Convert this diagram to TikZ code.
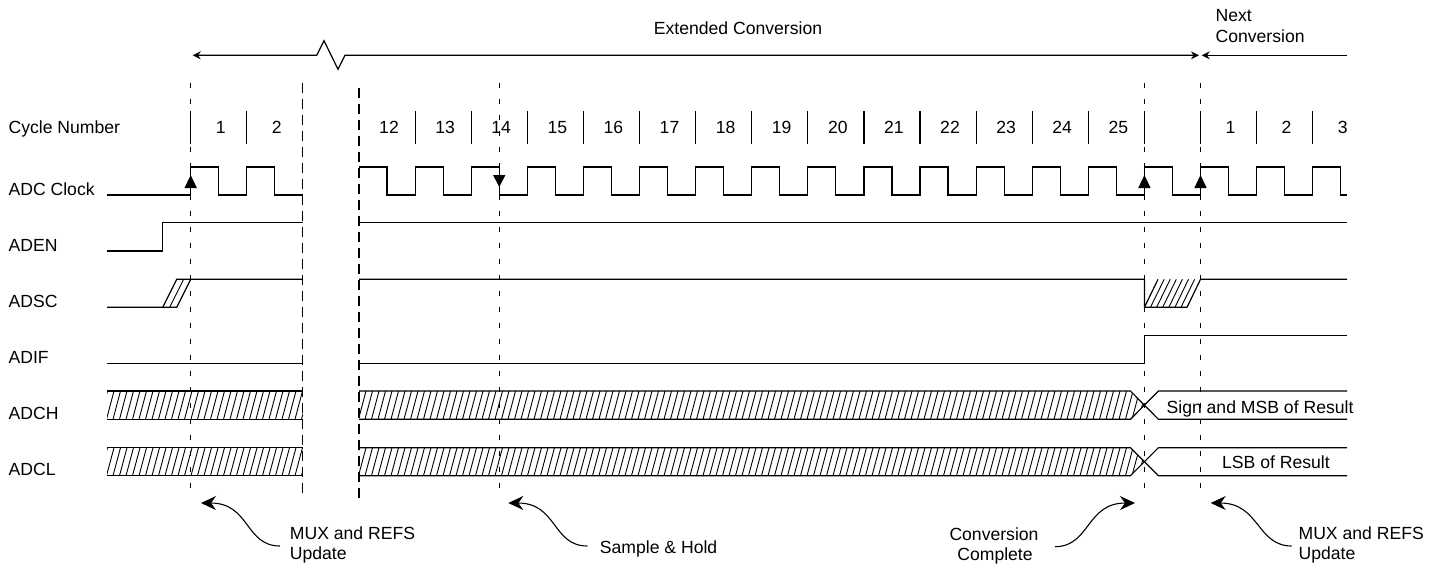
\documentclass[tikz,border=0pt]{standalone}
\usepackage{fontspec}
\setmainfont{Liberation Sans}
\usetikzlibrary{arrows.meta}
\begin{document}
\begin{tikzpicture}[x=1pt,y=-1pt,line width=1.2pt,
  evline/.style={line width=1.1pt, dash pattern=on 5pt off 11pt},
  brkline/.style={line width=1.1pt, dash pattern=on 10pt off 6pt},
  lbl/.style={font=\fontsize{17.6}{21}\selectfont, inner sep=0pt},
  hatchln/.style={line width=0.9pt},
  note/.style={line width=1.1pt, -{Stealth[length=15pt,width=14pt,inset=5pt]}},
  spanarrows/.style={{Stealth[length=8pt,width=8pt]}-{Stealth[length=8pt,width=8pt]}},
  spanarrow/.style={-{Stealth[length=8pt,width=8pt]}}]
\useasboundingbox (0,0) rectangle (1440,563);
\def\rz{190.7}\def\per{56.1}

% signal labels
\node[lbl,anchor=base west] (lcyc) at (8,133) {Cycle Number};
\node[lbl,anchor=base west] (lclk) at (8,195.5) {ADC Clock};
\node[lbl,anchor=base west] (laden) at (8,251.5) {ADEN};
\node[lbl,anchor=base west] (ladsc) at (8,307.5) {ADSC};
\node[lbl,anchor=base west] (ladif) at (8,363.5) {ADIF};
\node[lbl,anchor=base west] (ladch) at (8,419.5) {ADCH};
\node[lbl,anchor=base west] (ladcl) at (8,475.5) {ADCL};

% cycle numbers and separators
\foreach \n/\t in {0/1,1/2,3/12,4/13,5/14,6/15,7/16,8/17,9/18,10/19,11/20,12/21,13/22,14/23,15/24,16/25,18/1,19/2,20/3}
  \node[lbl,anchor=base] (cyc\n) at ({\rz+\per*\n+30},133) {\t};
\foreach \n in {0,1}
  \draw ({\rz+\per*\n},111) -- ++(0,33);
\foreach \n in {4,...,20}
  \draw ({\rz+\per*\n},111) -- ++(0,33);

% ADC clock
\draw (107,195) -- (190.7,195) -- (190.7,167) -- (218.75,167) -- (218.75,195) -- (246.8,195) -- (246.8,167) -- (274.85,167) -- (274.85,195) -- (302.9,195);
\draw (359,167) \foreach \k in {3,...,19}{ -- ({\rz+\per*\k+28.05},167) -- ({\rz+\per*\k+28.05},195) -- ({\rz+\per*(\k+1)},195) -- ({\rz+\per*(\k+1)},167)} -- (1340.75,167) -- (1340.75,195) -- (1347,195);
\foreach \x in {190.7,1144.4,1200.5}
  \fill (\x,175) -- (\x+6.2,188) -- (\x-6.2,188) -- cycle;
\fill (499.25,187) -- (505.45,175) -- (493.05,175) -- cycle;

% ADEN
\draw (107,251) -- (162.7,251) -- (162.7,222.7) -- (302.9,222.7);
\draw (359,222.7) -- (1347,222.7);

% ADSC
\draw (107,307.3) -- (176.7,307.3) -- (190.7,279.3) -- (302.9,279.3);
\draw (162.7,307.3) -- (176.7,279.3) -- (190.7,279.3);
\draw[hatchln] (169.7,307.3) -- (183.7,279.3);
\draw (359,279.3) -- (1144.4,279.3) -- (1144.4,307.3) -- (1187,307.3) -- (1200.5,279.3) -- (1347,279.3);
\draw (1144.4,307.3) -- (1158,279.3);
\foreach \x in {1150.5,1156.6,1162.7,1168.8,1174.9,1181}
  \draw[hatchln] (\x,307.3) -- ++(13.6,-28);

% ADIF
\draw (107,363.3) -- (302.9,363.3);
\draw (359,363.3) -- (1144.4,363.3) -- (1144.4,335.7) -- (1347,335.7);

% ADCH / ADCL buses
\foreach \T/\B in {391/419.3,447.7/475.7} {
  \pgfmathsetmacro\M{(\T+\B)/2}
  \begin{scope}
    \clip (107,\T) rectangle (302.9,\B);
    \foreach \x in {100,106.5,...,310} \draw[hatchln] (\x,\B) -- ++(7.5,\T-\B);
  \end{scope}
  \draw (107,\T) -- (302.9,\T) (107,\B) -- (302.9,\B);
  \begin{scope}
    \clip (359,\T) -- (1130.4,\T) -- (1144.4,\M) -- (1130.4,\B) -- (359,\B) -- cycle;
    \foreach \x in {352,358.5,...,1150} \draw[hatchln] (\x,\B) -- ++(7.5,\T-\B);
  \end{scope}
  \draw (359,\T) -- (1130.4,\T) -- (1158.4,\B) -- (1347,\B);
  \draw (359,\B) -- (1130.4,\B) -- (1158.4,\T) -- (1347,\T);
}
\node[lbl,anchor=base west] (msb) at (1166,413.3) {Sign and MSB of Result};
\node[lbl,anchor=base] (lsb) at (1276,468.5) {LSB of Result};

% vertical dashed markers
\foreach \x in {190.7,499.25,1144.4,1200.5}
  \draw[evline] (\x,83) -- (\x,498);
\draw[brkline] (302.9,83) -- (302.9,497);
\draw[brkline] (359,88) -- (359,503);

% top spans
\coordinate (exL) at (192.7,55.3);
\coordinate (exR) at (1199,55.3);
\coordinate (nxL) at (1201.7,55.3);
\coordinate (nxR) at (1347,55.3);
\draw[spanarrows] (exL) -- (316.7,55.3) -- (324,40.7) -- (338,69.3) -- (345,55.3) -- (exR);
\draw[spanarrow] (nxR) -- (nxL);
\node[lbl,anchor=base] (ext) at (738,34) {Extended Conversion};
\node[lbl,anchor=base west] (nxt1) at (1215,21.3) {Next};
\node[lbl,anchor=base west] (nxt2) at (1215,42.3) {Conversion};

% annotations
\node[lbl,anchor=base west] (mux1a) at (289.3,539) {MUX and REFS};
\node[lbl,anchor=base west] (mux1b) at (289.3,559.3) {Update};
\coordinate (m1s) at (280,546); \coordinate (m1t) at (201,503);
\draw[note] (m1s) .. controls +(-35,0) and +(49,0) .. (m1t);

\node[lbl,anchor=base west] (sh) at (599.3,553.3) {Sample \& Hold};
\coordinate (shs) at (587.3,546); \coordinate (sht) at (508.3,503);
\draw[note] (shs) .. controls +(-35,0) and +(49,0) .. (sht);

\node[lbl,anchor=base] (cc1) at (994,540.5) {Conversion};
\node[lbl,anchor=base] (cc2) at (995,560) {Complete};
\coordinate (ccs) at (1055,546.7); \coordinate (cct) at (1135,503);
\draw[note] (ccs) .. controls +(35,0) and +(-49,0) .. (cct);

\node[lbl,anchor=base west] (mux2a) at (1298,539) {MUX and REFS};
\node[lbl,anchor=base west] (mux2b) at (1298,559.3) {Update};
\coordinate (m2s) at (1291.7,546); \coordinate (m2t) at (1210.7,503);
\draw[note] (m2s) .. controls +(-35,0) and +(49,0) .. (m2t);
\end{tikzpicture}
\end{document}
